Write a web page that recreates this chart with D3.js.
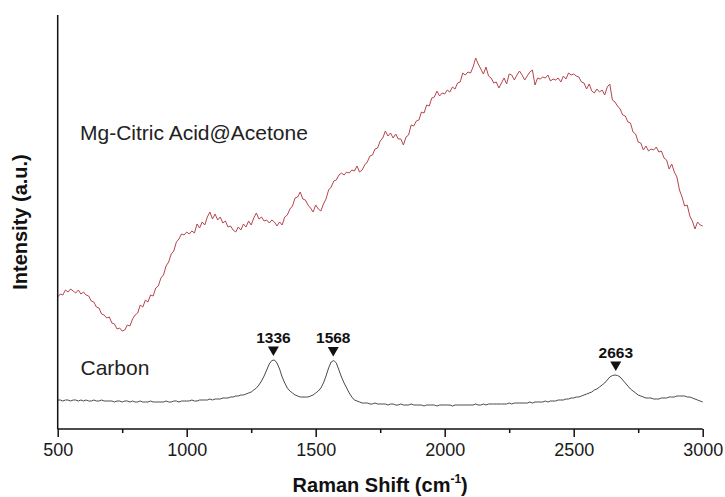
<!DOCTYPE html>
<html>
<head>
<meta charset="utf-8">
<script src="https://cdn.jsdelivr.net/npm/d3@7"></script>
<style>
  html, body { margin: 0; padding: 0; background: #fff; }
  svg { display: block; font-family: "Liberation Sans", Arial, sans-serif; }
</style>
</head>
<body>
<svg id="chart" width="725" height="497"></svg>
<script>
// Raman shift sampling (cm-1), one reading every 10 cm-1
const ramanShift = d3.range(500, 3001, 10);

// Mg-Citric Acid@Acetone spectrum (a.u.)
const mgCitric = [
  1320,1350,1340,1390,1370,1400,1380,1360,1390,1350,
  1370,1340,1330,1280,1270,1220,1210,1150,1140,1110,
  1120,1060,1050,1000,1010,980,990,1040,1030,1100,
  1140,1160,1240,1220,1290,1270,1340,1330,1410,1430,
  1510,1540,1630,1670,1750,1780,1870,1900,1950,1940,
  1970,1950,1980,1960,2050,2010,2070,2040,2120,2170,
  2100,2150,2090,2120,2060,2080,2020,2030,1990,1970,
  2020,1990,2050,2020,2080,2040,2110,2160,2100,2120,
  2080,2090,2060,2090,2070,2030,2070,2040,2120,2140,
  2200,2230,2310,2320,2370,2300,2290,2240,2210,2170,
  2240,2200,2180,2250,2300,2390,2420,2480,2490,2540,
  2560,2540,2570,2560,2590,2580,2630,2570,2590,2640,
  2670,2730,2740,2800,2810,2880,2910,2980,2930,2960,
  2910,2950,2900,2900,2840,2920,2940,3040,3030,3080,
  3090,3170,3160,3240,3230,3310,3320,3380,3330,3360,
  3350,3390,3370,3420,3400,3460,3470,3560,3540,3570,
  3560,3620,3710,3650,3600,3550,3620,3530,3510,3460,
  3470,3410,3460,3510,3450,3550,3540,3490,3540,3580,
  3540,3490,3530,3570,3590,3440,3510,3500,3520,3510,
  3540,3480,3500,3490,3510,3470,3530,3500,3560,3540,
  3550,3530,3520,3470,3460,3400,3450,3380,3360,3400,
  3370,3390,3340,3420,3450,3290,3270,3230,3200,3140,
  3130,3070,3060,2970,2950,2870,2860,2790,2830,2780,
  2800,2790,2820,2770,2780,2710,2690,2600,2650,2570,
  2520,2390,2320,2230,2240,2130,2080,2000,2070,2040,
  2030
];

// Carbon reference spectrum (a.u.)
const carbon = [
  290,290,280,290,290,280,290,290,280,290,
  280,290,280,280,290,280,280,290,280,280,
  280,280,270,280,280,270,280,280,270,280,
  270,270,280,270,270,270,280,270,270,270,
  270,270,280,270,270,280,280,270,280,280,
  280,280,290,280,280,290,290,290,290,300,
  290,300,300,300,310,310,310,320,320,330,
  330,340,340,350,360,370,390,410,440,480,
  530,590,650,685,690,660,600,520,460,410,
  380,360,340,330,320,320,320,320,330,340,
  360,380,410,460,530,610,670,685,660,590,
  520,460,410,360,320,290,280,270,260,260,
  260,250,250,260,250,250,250,250,240,250,
  250,240,240,250,240,240,240,250,240,240,
  240,240,230,240,240,240,240,230,240,240,
  240,240,240,230,240,240,240,240,240,240,
  240,240,250,240,240,250,240,250,250,250,
  250,250,250,250,250,260,250,260,260,260,
  260,260,260,270,260,270,270,270,270,280,
  270,280,280,280,290,290,290,300,300,310,
  310,320,320,330,340,350,360,370,390,400,
  420,440,460,490,520,535,540,535,520,490,
  460,430,400,380,360,340,330,320,310,310,
  310,300,300,300,310,310,310,320,320,320,
  330,330,330,330,320,320,310,300,290,280,
  270
];

const seriesNames = ["Mg-Citric Acid@Acetone", "Carbon"];
const peakShifts = [1336, 1568, 2663];
const majorTicks = [500, 1000, 1500, 2000, 2500, 3000];
const minorTicks = [750, 1250, 1750, 2250, 2750];

const svg = d3.select("#chart");
const margin = { left: 57.7, right: 22.3, top: 15, bottom: 68 };
const W = 725, H = 497;

const x = d3.scaleLinear().domain([500, 3000]).range([margin.left, W - margin.right]);
const y = d3.scaleLinear().domain([0, 4140]).range([H - margin.bottom, margin.top]);

const line = d3.line()
  .x((d, i) => x(ramanShift[i]))
  .y(d => y(d));

// spectra
svg.append("path")
  .datum(mgCitric)
  .attr("fill", "none")
  .attr("stroke", "#b5464e")
  .attr("stroke-width", 1)
  .attr("stroke-linejoin", "round")
  .attr("d", line);

svg.append("path")
  .datum(carbon)
  .attr("fill", "none")
  .attr("stroke", "#4a4a4a")
  .attr("stroke-width", 1)
  .attr("stroke-linejoin", "round")
  .attr("d", line);

// x axis: major ticks with labels, minor ticks without
const axisY = H - margin.bottom;
const xAxis = svg.append("g")
  .attr("transform", `translate(0,${axisY})`)
  .call(d3.axisBottom(x).tickValues(majorTicks).tickSize(8).tickPadding(6).tickFormat(d3.format("d")));
xAxis.select(".domain").attr("stroke", "#111").attr("stroke-width", 1.5).attr("d", `M${x(500)},0H${x(3000)}`);
xAxis.selectAll(".tick line").attr("stroke", "#111").attr("stroke-width", 1.5);
xAxis.selectAll(".tick text")
  .attr("fill", "#1a1a1a")
  .style("font-size", "18px")
  .style("font-family", "'Liberation Sans', Arial, sans-serif");

const xMinor = svg.append("g")
  .attr("transform", `translate(0,${axisY})`)
  .call(d3.axisBottom(x).tickValues(minorTicks).tickSize(4).tickFormat(""));
xMinor.select(".domain").remove();
xMinor.selectAll(".tick line").attr("stroke", "#111").attr("stroke-width", 1.5);

// y axis line (no ticks)
svg.append("line")
  .attr("x1", x(500)).attr("x2", x(500))
  .attr("y1", margin.top).attr("y2", axisY)
  .attr("stroke", "#111").attr("stroke-width", 1.5);

// axis titles
const xTitle = svg.append("text")
  .attr("x", (x(500) + x(3000)) / 2)
  .attr("y", 492)
  .attr("text-anchor", "middle")
  .attr("font-weight", "bold")
  .attr("font-size", 20)
  .attr("fill", "#111");
xTitle.append("tspan").text("Raman Shift (cm");
xTitle.append("tspan").attr("font-size", 12).attr("dy", -9).text("-1");
xTitle.append("tspan").attr("dy", 9).text(")");

svg.append("text")
  .attr("transform", `translate(27,${(margin.top + axisY) / 2}) rotate(-90)`)
  .attr("text-anchor", "middle")
  .attr("font-weight", "bold")
  .attr("font-size", 20)
  .attr("fill", "#111")
  .text("Intensity (a.u.)");

// series labels
svg.append("text")
  .attr("x", 80).attr("y", 140)
  .attr("font-size", 21)
  .attr("fill", "#222")
  .text(seriesNames[0]);
svg.append("text")
  .attr("x", 80.5).attr("y", 375)
  .attr("font-size", 21)
  .attr("fill", "#222")
  .text(seriesNames[1]);

// peak markers on the carbon spectrum
function peakHeight(p) {
  let m = -Infinity;
  ramanShift.forEach((s, i) => { if (Math.abs(s - p) <= 25) m = Math.max(m, carbon[i]); });
  return m;
}
const peaks = svg.append("g").selectAll("g").data(peakShifts).join("g")
  .attr("transform", d => `translate(${x(d)},${y(peakHeight(d)) - 4})`);
peaks.append("path")
  .attr("d", "M-5.5,-9.5L5.5,-9.5L0,0Z")
  .attr("fill", "#111");
peaks.append("text")
  .attr("y", -13.5)
  .attr("text-anchor", "middle")
  .attr("font-weight", "bold")
  .attr("font-size", 15.5)
  .attr("fill", "#111")
  .text(d => d);
</script>
</body>
</html>
